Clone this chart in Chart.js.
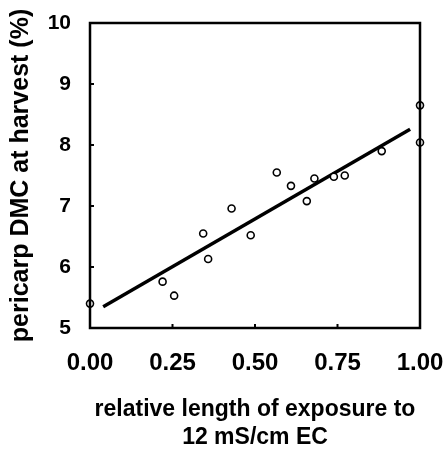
<!DOCTYPE html>
<html>
<head>
<meta charset="utf-8">
<script src="https://cdn.jsdelivr.net/npm/chart.js@4.4.0/dist/chart.umd.min.js"></script>
<style>
html,body{margin:0;padding:0;background:#fff;}
#wrap{width:446px;height:453px;}
</style>
</head>
<body>
<div id="wrap"><canvas id="c" width="446" height="453"></canvas></div>
<script>
// Data
const exposure = [0.00, 0.22, 0.255, 0.343, 0.358, 0.429, 0.487, 0.566, 0.609, 0.657, 0.680, 0.739, 0.772, 0.884, 1.00, 1.00];
const dmc      = [5.40, 5.76, 5.53, 6.55, 6.13, 6.96, 6.52, 7.55, 7.33, 7.08, 7.45, 7.48, 7.50, 7.90, 8.65, 8.04];
const fitX = [0.04, 0.97];
const fitY = [5.35, 8.26];
const xTicks = [0, 0.25, 0.5, 0.75, 1];
const yTicks = [5, 6, 7, 8, 9, 10];
const xTitle = ['relative length of exposure to', '12 mS/cm EC'];
const yTitle = 'pericarp DMC at harvest (%)';

const FONT = 'Liberation Sans, Arial, Helvetica, sans-serif';

const framePlugin = {
  id: 'frame',
  afterDatasetsDraw(chart) {
    const {ctx, chartArea: a, scales} = chart;
    ctx.save();
    ctx.strokeStyle = '#000';
    ctx.lineWidth = 2.5;
    ctx.strokeRect(a.left, a.top, a.right - a.left, a.bottom - a.top);
    ctx.lineWidth = 2;
    ctx.beginPath();
    yTicks.forEach(v => {
      const y = scales.y.getPixelForValue(v);
      ctx.moveTo(a.left, y); ctx.lineTo(a.left + 4, y);
    });
    xTicks.forEach(v => {
      const x = scales.x.getPixelForValue(v);
      ctx.moveTo(x, a.bottom); ctx.lineTo(x, a.bottom - 4);
    });
    ctx.stroke();
    ctx.restore();
  }
};

function noPad(s) {
  s.paddingLeft = 0; s.paddingRight = 0; s.paddingTop = 0; s.paddingBottom = 0;
}

new Chart(document.getElementById('c'), {
  type: 'scatter',
  data: {
    datasets: [
      {
        type: 'line',
        data: fitX.map((x, i) => ({x, y: fitY[i]})),
        borderColor: '#000',
        borderWidth: 3.5,
        pointRadius: 0,
        fill: false,
        order: 2
      },
      {
        data: exposure.map((x, i) => ({x, y: dmc[i]})),
        pointRadius: 3.5,
        pointBorderWidth: 1.6,
        pointBackgroundColor: '#fff',
        pointBorderColor: '#000',
        clip: false,
        order: 1
      }
    ]
  },
  options: {
    responsive: false,
    animation: false,
    devicePixelRatio: 1,
    layout: {padding: {top: 23, right: 26, left: 0, bottom: 0}},
    plugins: {legend: {display: false}, tooltip: {enabled: false}},
    scales: {
      x: {
        type: 'linear', min: 0, max: 1,
        afterFit(s) { s.height = 125; noPad(s); },
        afterBuildTicks(s) { s.ticks = xTicks.map(v => ({value: v})); },
        grid: {display: false, drawTicks: false},
        border: {display: false},
        ticks: {
          color: '#000', padding: 21, maxRotation: 0,
          font: {family: FONT, size: 24, weight: 'bold'},
          callback: v => v.toFixed(2)
        },
        title: {
          display: true, text: xTitle, color: '#000',
          font: {family: FONT, size: 23, weight: 'bold', lineHeight: 1.2},
          padding: {top: 0, bottom: 2}
        }
      },
      y: {
        type: 'linear', min: 5, max: 10,
        afterFit(s) { s.width = 90; noPad(s); },
        afterBuildTicks(s) { s.ticks = yTicks.map(v => ({value: v})); },
        grid: {display: false, drawTicks: false},
        border: {display: false},
        ticks: {
          color: '#000', padding: 19,
          font: {family: FONT, size: 21, weight: 'bold'}
        },
        title: {
          display: true, text: yTitle, color: '#000',
          font: {family: FONT, size: 25, weight: 'bold'},
          padding: {top: 6, bottom: 0}
        }
      }
    }
  },
  plugins: [framePlugin]
});
</script>
</body>
</html>
